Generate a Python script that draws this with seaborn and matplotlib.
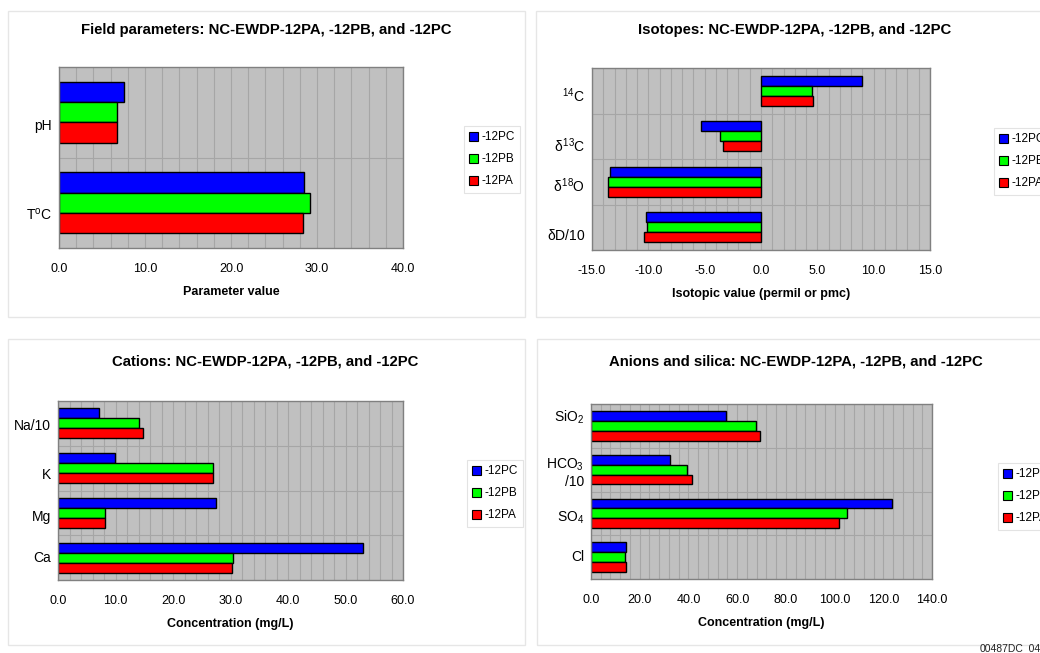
import matplotlib
matplotlib.use("Agg")
import matplotlib.pyplot as plt
import matplotlib.transforms as mtransforms
import seaborn as sns
import pandas as pd
from matplotlib.patches import Rectangle, Patch

# ---------------- data ----------------
wells = ["-12PC", "-12PB", "-12PA"]
well_colors = ["#0000ff", "#00ff00", "#ff0000"]

field_params = ["pH", "T$^{o}$C"]
field_pc = [7.5, 28.5]
field_pb = [6.8, 29.2]
field_pa = [6.8, 28.4]

iso_params = ["$^{14}$C", "$\\delta^{13}$C", "$\\delta^{18}$O", "$\\delta$D/10"]
iso_pc = [9.0, -5.35, -13.4, -10.2]
iso_pb = [4.5, -3.6, -13.6, -10.1]
iso_pa = [4.65, -3.4, -13.6, -10.4]

cat_params = ["Na/10", "K", "Mg", "Ca"]
cat_pc = [7.2, 9.9, 27.5, 53.0]
cat_pb = [14.0, 27.0, 8.2, 30.5]
cat_pa = [14.7, 27.0, 8.2, 30.3]

an_params = ["SiO$_2$", "HCO$_3$\n/10", "SO$_4$", "Cl"]
an_pc = [55.6, 32.5, 123.4, 14.4]
an_pb = [67.8, 39.6, 104.9, 14.1]
an_pa = [69.5, 41.6, 101.8, 14.4]

titles = [
    "Field parameters: NC-EWDP-12PA, -12PB, and -12PC",
    "Isotopes: NC-EWDP-12PA, -12PB, and -12PC",
    "Cations: NC-EWDP-12PA, -12PB, and -12PC",
    "Anions and silica: NC-EWDP-12PA, -12PB, and -12PC",
]
xlabels = ["Parameter value", "Isotopic value (permil or pmc)",
           "Concentration (mg/L)", "Concentration (mg/L)"]
xticks_list = [
    [0, 10, 20, 30, 40],
    [-15, -10, -5, 0, 5, 10, 15],
    [0, 10, 20, 30, 40, 50, 60],
    [0, 20, 40, 60, 80, 100, 120, 140],
]
minor_steps = [2, 1, 2, 4]

# ---------------- style ----------------
sns.set_theme(style="white")
plt.rcParams["font.family"] = ["Liberation Sans", "DejaVu Sans"]
plt.rcParams["mathtext.fontset"] = "custom"
plt.rcParams["mathtext.rm"] = "Liberation Sans"
plt.rcParams["mathtext.it"] = "Liberation Sans"
for k in ["text.color", "axes.labelcolor", "xtick.color", "ytick.color"]:
    plt.rcParams[k] = "black"

W, H = 1040, 653
fig = plt.figure(figsize=(W / 100, H / 100), dpi=100)
fig.patch.set_facecolor("white")


def px_rect(x0, y0, x1, y1):
    return [x0 / W, 1 - y1 / H, (x1 - x0) / W, (y1 - y0) / H]


# panel frames
for (x0, y0, x1, y1) in [(8, 11, 525, 317), (536, 11, 1060, 317),
                         (8, 339, 525, 645), (537, 339, 1060, 645)]:
    fig.patches.append(Rectangle((x0 / W, 1 - y1 / H), (x1 - x0) / W, (y1 - y0) / H,
                                 transform=fig.transFigure, fill=False,
                                 edgecolor="#e6e6e6", linewidth=1.0))

axes_px = [(59, 67, 403, 248), (592, 68, 930, 250),
           (58, 401, 403, 580), (591, 404, 932, 579)]
title_pos = [(266, 30), (795, 30), (265, 361), (796, 361)]
legend_pos = [(464, 126), (994, 128), (467, 460), (998, 463)]
# vertical nudges (pixels, downward) of category labels, as in the original layout
label_dy = [[14, 12], [5, 9, 4, 8], [3, 7, 4, 0], [-9, 3, 4, 0]]

datasets = [
    (field_params, field_pc, field_pb, field_pa),
    (iso_params, iso_pc, iso_pb, iso_pa),
    (cat_params, cat_pc, cat_pb, cat_pa),
    (an_params, an_pc, an_pb, an_pa),
]

for i, (params, pc, pb, pa) in enumerate(datasets):
    ax = fig.add_axes(px_rect(*axes_px[i]))
    rows = []
    for w, vals in zip(wells, [pc, pb, pa]):
        for p, v in zip(params, vals):
            rows.append({"param": p, "well": w, "value": v})
    df = pd.DataFrame(rows)
    sns.barplot(data=df, x="value", y="param", hue="well", hue_order=wells,
                order=params, palette=well_colors, orient="h", width=0.67,
                edgecolor="black", linewidth=1.0, saturation=1, errorbar=None,
                legend=False, ax=ax)
    ax.set_facecolor("#c0c0c0")
    xt = xticks_list[i]
    ax.set_xlim(xt[0], xt[-1])
    ax.set_xticks(xt)
    ax.set_xticklabels([f"{v:.1f}" for v in xt], fontsize=9)
    step = minor_steps[i]
    minors = []
    v = xt[0]
    while v <= xt[-1] + 1e-9:
        minors.append(v)
        v += step
    ax.set_xticks(minors, minor=True)
    n = len(params)
    ax.set_ylim(n - 0.5, -0.5)
    ax.set_yticks([k + 0.5 for k in range(n - 1)], minor=True)
    # category labels drawn as text so they can carry the original's small offsets
    ax.set_yticklabels([""] * n)
    ytrans = ax.get_yaxis_transform()
    for k, (p, dy) in enumerate(zip(params, label_dy[i])):
        off = mtransforms.ScaledTranslation(-7 / 100, -dy / 100, fig.dpi_scale_trans)
        ax.text(0, k, p, transform=ytrans + off, ha="right", va="center",
                fontsize=10, multialignment="right", clip_on=False)
    ax.grid(which="minor", axis="both", color="#a6a6a6", linewidth=0.8)
    ax.grid(which="major", axis="y", visible=False)
    ax.grid(which="major", axis="x", color="#a6a6a6", linewidth=0.8)
    ax.set_axisbelow(True)
    ax.tick_params(axis="both", which="both", length=0)
    ax.tick_params(axis="x", pad=11)
    ax.set_ylabel("")
    ax.set_xlabel(xlabels[i], fontsize=9, fontweight="bold", labelpad=8)
    for s in ax.spines.values():
        s.set_visible(True)
        s.set_color("#808080")
        s.set_linewidth(1.0)
    tx, ty = title_pos[i]
    fig.text(tx / W, 1 - ty / H, titles[i], ha="center", va="center",
             fontsize=10.7, fontweight="bold")
    handles = [Patch(facecolor=c, edgecolor="black", linewidth=0.8) for c in well_colors]
    lx, ly = legend_pos[i]
    leg = fig.legend(handles, wells, loc="upper left",
                     bbox_to_anchor=(lx / W, 1 - ly / H),
                     bbox_transform=fig.transFigure, fontsize=8.5,
                     frameon=True, fancybox=False, handlelength=0.75,
                     handleheight=0.75, handletextpad=0.25, labelspacing=0.85,
                     borderpad=0.45, borderaxespad=0)
    leg.get_frame().set_edgecolor("#dcdcdc")
    leg.get_frame().set_linewidth(0.8)

fig.text(980 / W, 1 - 648 / H, "00487DC_044", ha="left", va="center",
         fontsize=7.5, color="#222222")

fig.savefig("out.png", dpi=100)
